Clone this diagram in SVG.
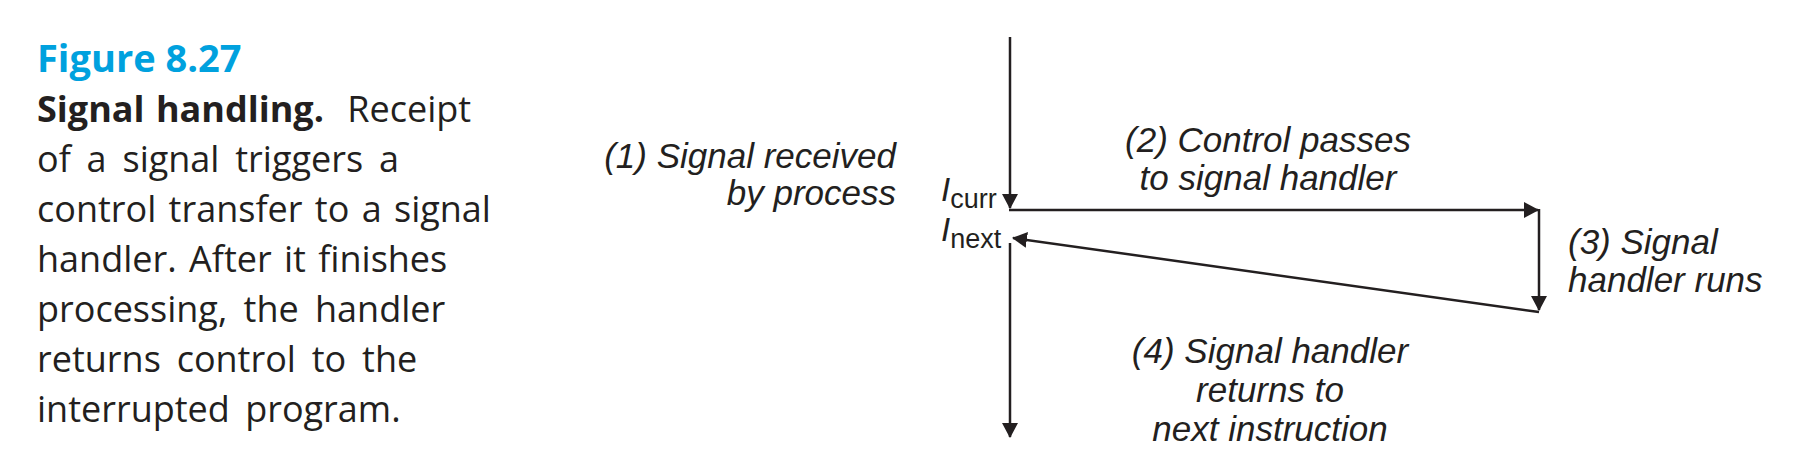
<svg xmlns="http://www.w3.org/2000/svg" width="1800" height="476" viewBox="0 0 1800 476">
<style>
.cap{font-family:"Open Sans","Liberation Sans",sans-serif;font-size:36px;fill:#231f20}
.fig{font-family:"Open Sans","Liberation Sans",sans-serif;font-size:38px;font-weight:bold;fill:#00a1de}
.b{font-weight:bold}
.lbl{font-family:"Liberation Sans",Arial,sans-serif;font-style:italic;font-size:35px;fill:#231f20}
.I{font-family:"Liberation Sans",Arial,sans-serif;font-style:italic;font-size:33px;fill:#231f20}
.sub{font-family:"Liberation Sans",Arial,sans-serif;font-size:27px;fill:#231f20}
.ln{stroke:#231f20;stroke-width:2.5;fill:none}
</style>
<defs>
<marker id="ah" viewBox="0 0 15 16" markerUnits="userSpaceOnUse" markerWidth="15" markerHeight="16" refX="14" refY="8" orient="auto">
<path d="M0,0 L15,8 L0,16 z" fill="#231f20"/>
</marker>
</defs>
<rect width="1800" height="476" fill="#ffffff"/>
<g id="caption">
<text class="fig" x="37" y="72">Figure 8.27</text>
<text class="cap" x="37" y="122"><tspan class="b" word-spacing="2">Signal handling.</tspan><tspan word-spacing="14"> Receipt</tspan></text>
<text class="cap" x="37" y="172" word-spacing="6.5">of a signal triggers a</text>
<text class="cap" x="37" y="222" word-spacing="3">control transfer to a signal</text>
<text class="cap" x="37" y="272" word-spacing="3">handler. After it finishes</text>
<text class="cap" x="37" y="322" word-spacing="7">processing, the handler</text>
<text class="cap" x="37" y="372" word-spacing="6.5">returns control to the</text>
<text class="cap" x="37" y="422" word-spacing="6">interrupted program.</text>
</g>
<g id="connectors">
<line class="ln" x1="1010" y1="37" x2="1010" y2="208" marker-end="url(#ah)"/>
<line class="ln" x1="1009" y1="210" x2="1538" y2="210" marker-end="url(#ah)"/>
<line class="ln" x1="1539" y1="209" x2="1539" y2="310" marker-end="url(#ah)"/>
<line class="ln" x1="1539" y1="312" x2="1013" y2="238" marker-end="url(#ah)"/>
<line class="ln" x1="1010" y1="243" x2="1010" y2="437" marker-end="url(#ah)"/>
</g>
<g id="icurr">
<text x="941" y="201"><tspan class="I">I</tspan><tspan class="sub" dy="7">curr</tspan></text>
</g>
<g id="inext">
<text x="941" y="241"><tspan class="I">I</tspan><tspan class="sub" dy="7">next</tspan></text>
</g>
<g id="step1">
<text class="lbl" text-anchor="end" x="896" y="168">(1) Signal received</text>
<text class="lbl" text-anchor="end" x="896" y="205">by process</text>
</g>
<g id="step2">
<text class="lbl" text-anchor="middle" x="1268" y="152">(2) Control passes</text>
<text class="lbl" text-anchor="middle" x="1268" y="190">to signal handler</text>
</g>
<g id="step3">
<text class="lbl" x="1568" y="254">(3) Signal</text>
<text class="lbl" x="1568" y="292">handler runs</text>
</g>
<g id="step4">
<text class="lbl" text-anchor="middle" x="1270" y="363">(4) Signal handler</text>
<text class="lbl" text-anchor="middle" x="1270" y="402">returns to</text>
<text class="lbl" text-anchor="middle" x="1270" y="441">next instruction</text>
</g>
</svg>
